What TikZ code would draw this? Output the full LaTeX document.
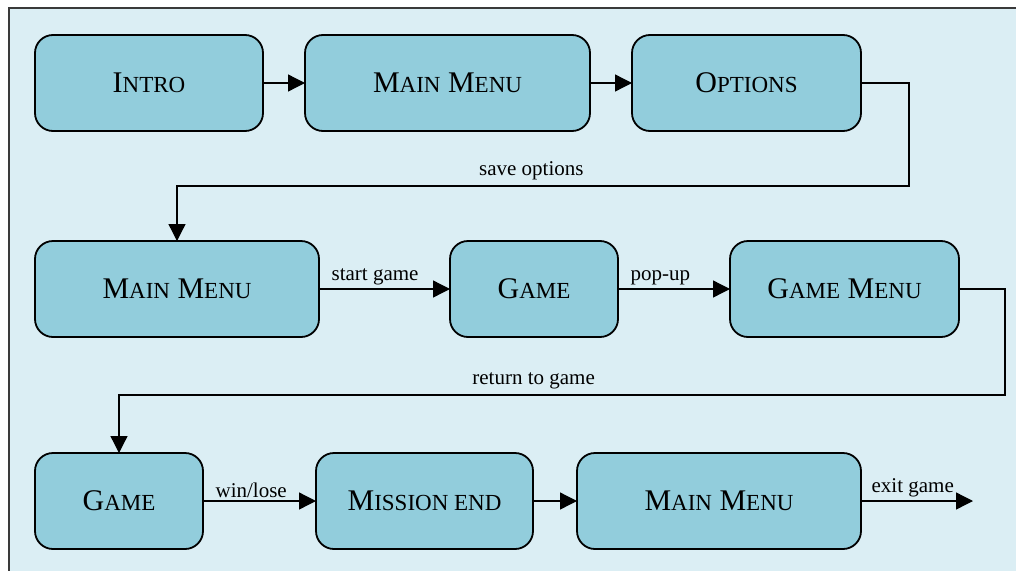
\documentclass[tikz,border=0pt]{standalone}
\usepackage{fontspec}
\setmainfont{Liberation Serif}
\usetikzlibrary{arrows.meta}
\definecolor{paneblue}{HTML}{DBEEF4}
\definecolor{boxblue}{HTML}{92CDDC}
\definecolor{framegray}{HTML}{3A3A3A}
\newcommand{\fsc}[2]{#1{\fontsize{23}{23}\selectfont #2}}

\begin{document}
\begin{tikzpicture}[x=1pt, y=-1pt, >={Triangle[length=17pt,width=17pt]}, line width=1.3pt,
  screen/.style={draw, rounded corners=18pt, fill=boxblue, line width=1.8pt, minimum height=96pt,
    inner sep=0pt, outer sep=0pt, font=\fontsize{30}{36}\selectfont},
  lbl/.style={font=\fontsize{21}{25}\selectfont, anchor=south west, pos=0, xshift=9pt, inner sep=3pt},
  lbltop/.style={font=\fontsize{21}{25}\selectfont, above, inner sep=5pt}]
  \useasboundingbox (0,0) rectangle (1016,570);
  \fill[paneblue] (9,8) rectangle (1030,580);
  \draw[framegray, line width=1.5pt] (9,580) -- (9,8) -- (1030,8);

  % first row
  \node[screen, minimum width=228pt] (intro) at (149,83) {\fsc{I}{NTRO}};
  \node[screen, minimum width=285pt] (main_menu) at (447.5,83) {\fsc{M}{AIN} \fsc{M}{ENU}};
  \node[screen, minimum width=229pt] (options) at (746.5,83) {\fsc{O}{PTIONS}};
  % second row
  \node[screen, minimum width=284pt] (main_menu_b) at (177,289) {\fsc{M}{AIN} \fsc{M}{ENU}};
  \node[screen, minimum width=168pt] (game) at (534,289) {\fsc{G}{AME}};
  \node[screen, minimum width=229pt] (game_menu) at (844.5,289) {\fsc{G}{AME} \fsc{M}{ENU}};
  % third row
  \node[screen, minimum width=168pt] (game_b) at (119,501) {\fsc{G}{AME}};
  \node[screen, minimum width=217pt] (mission_end) at (424.5,501) {\fsc{M}{ISSION END}};
  \node[screen, minimum width=284pt] (main_menu_c) at (719,501) {\fsc{M}{AIN} \fsc{M}{ENU}};
  \coordinate (exit) at (973,501);

  \path[->] (intro) edge (main_menu)
    (main_menu) edge (options)
    (main_menu_b) edge node[lbl] {start game} (game)
    (game) edge node[lbl] {pop-up} (game_menu)
    (game_b) edge node[lbl] {win/lose} (mission_end)
    (mission_end) edge (main_menu_c)
    (main_menu_c) edge node[lbl, xshift=-2pt] {exit game} (exit);

  \draw[->] (options.east) -| ++(48,103) -| node[lbltop, pos=0.258] {save options} (main_menu_b.north);
  \draw[->] (game_menu.east) -| ++(46,106) -| node[lbltop, pos=0.266] {return to game} (game_b.north);
\end{tikzpicture}
\end{document}
